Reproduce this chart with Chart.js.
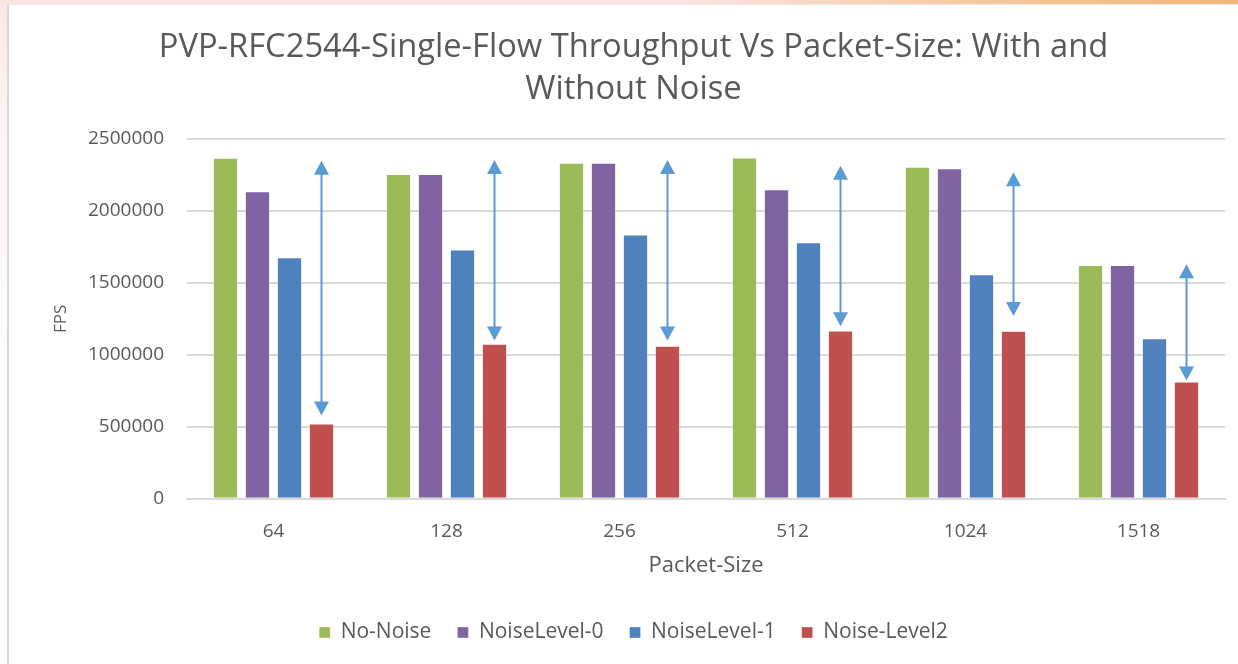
<!DOCTYPE html>
<html>
<head>
<meta charset="utf-8">
<script src="https://cdn.jsdelivr.net/npm/chart.js@4.4.1/dist/chart.umd.min.js"></script>
<style>
  html, body { margin: 0; padding: 0; }
  body {
    width: 1238px; height: 664px; overflow: hidden; position: relative;
    background: linear-gradient(180deg, #fbe6e4 0px, #fdf3f2 120px, #ffffff 400px);
  }
  #strip {
    position: absolute; left: 0; top: 0; width: 1238px; height: 5px;
    background: linear-gradient(90deg, #fbe3e0 0%, #fbe3e0 55%, #f6c89a 80%, #f2b57a 100%);
  }
  #box {
    position: absolute; left: 7px; top: 4px; width: 1231px; height: 660px;
    background: #ffffff; border-left: 2px solid #d9d9d9; border-top: 1px solid #e6e6e6;
    box-sizing: border-box;
  }
  #c { position: absolute; left: 0; top: 0; }
</style>
</head>
<body>
<div id="strip"></div>
<div id="box"></div>
<canvas id="c" width="1238" height="664"></canvas>
<script>
const categories = ['64', '128', '256', '512', '1024', '1518'];
const noNoise     = [2370000, 2256000, 2335000, 2372000, 2307000, 1625000];
const noiseLevel0 = [2136000, 2256000, 2335000, 2150000, 2296000, 1625000];
const noiseLevel1 = [1678000, 1732000, 1836000, 1783000, 1560000, 1116000];
const noiseLevel2 = [524000, 1077000, 1063000, 1170000, 1168000, 815000];
const arrowTop    = [2349000, 2354000, 2354000, 2314000, 2268000, 1630000];
const arrowBottom = [578000, 1100000, 1100000, 1198000, 1270000, 822000];
const yTicks = [0, 500000, 1000000, 1500000, 2000000, 2500000];

const FONT = "'Open Sans', 'DejaVu Sans', sans-serif";
const TXT = '#595959';

const arrowPlugin = {
  id: 'arrows',
  afterDatasetsDraw(chart) {
    const ctx = chart.ctx;
    const y = chart.scales.y;
    const meta = chart.getDatasetMeta(3);
    ctx.save();
    ctx.strokeStyle = '#5B9BD5';
    ctx.fillStyle = '#5B9BD5';
    ctx.lineWidth = 2;
    const hw = 7.5, hh = 14;
    arrowTop.forEach((v, i) => {
      const x = meta.data[i].x;
      const yt = y.getPixelForValue(v);
      const yb = y.getPixelForValue(arrowBottom[i]);
      ctx.beginPath();
      ctx.moveTo(x, yt + hh - 1);
      ctx.lineTo(x, yb - hh + 1);
      ctx.stroke();
      ctx.beginPath();
      ctx.moveTo(x, yt); ctx.lineTo(x - hw, yt + hh); ctx.lineTo(x + hw, yt + hh); ctx.closePath();
      ctx.fill();
      ctx.beginPath();
      ctx.moveTo(x, yb); ctx.lineTo(x - hw, yb - hh); ctx.lineTo(x + hw, yb - hh); ctx.closePath();
      ctx.fill();
    });
    ctx.restore();
  }
};

const ds = (label, data, color) => ({
  label, data, backgroundColor: color, borderColor: 'rgba(255,255,255,0.35)', borderWidth: 1,
  categoryPercentage: 0.74, barPercentage: 0.79
});

new Chart(document.getElementById('c'), {
  type: 'bar',
  data: {
    labels: categories,
    datasets: [
      ds('No-Noise', noNoise, '#9BBB59'),
      ds('NoiseLevel-0', noiseLevel0, '#8064A2'),
      ds('NoiseLevel-1', noiseLevel1, '#4F81BD'),
      ds('Noise-Level2', noiseLevel2, '#C0504D')
    ]
  },
  options: {
    responsive: false,
    animation: false,
    devicePixelRatio: 1,
    layout: { padding: { left: 42, right: 13, top: 27, bottom: 11 } },
    plugins: {
      title: {
        display: true,
        text: ['PVP-RFC2544-Single-Flow Throughput Vs Packet-Size: With and', 'Without Noise'],
        color: TXT,
        font: { family: FONT, size: 32.7, weight: 'normal', lineHeight: 1.284 },
        padding: { top: 0, bottom: 28 }
      },
      legend: {
        position: 'bottom',
        labels: {
          color: TXT,
          font: { family: FONT, size: 21 },
          boxWidth: 11, boxHeight: 11, padding: 26
        }
      },
      tooltip: { enabled: false }
    },
    scales: {
      x: {
        grid: { display: false, drawTicks: false },
        border: { display: true, color: '#d9d9d9', width: 2 },
        ticks: { color: TXT, font: { family: FONT, size: 19 }, padding: 21 },
        title: { display: true, text: 'Packet-Size', color: TXT, font: { family: FONT, size: 22 }, padding: { top: -11, bottom: 17 } }
      },
      y: {
        min: 0, max: 2500000,
        afterBuildTicks(s) { s.ticks = yTicks.map(v => ({ value: v })); },
        afterFit(s) { s.width = 187 - 42; },
        grid: { color: '#d9d9d9', lineWidth: 2, drawTicks: false },
        border: { display: false },
        ticks: { color: TXT, font: { family: FONT, size: 19 }, padding: 23, callback: v => String(v) },
        title: { display: true, text: 'FPS', color: TXT, font: { family: FONT, size: 17 }, padding: { top: 9, bottom: 0 } }
      }
    }
  },
  plugins: [arrowPlugin]
});
</script>
</body>
</html>
